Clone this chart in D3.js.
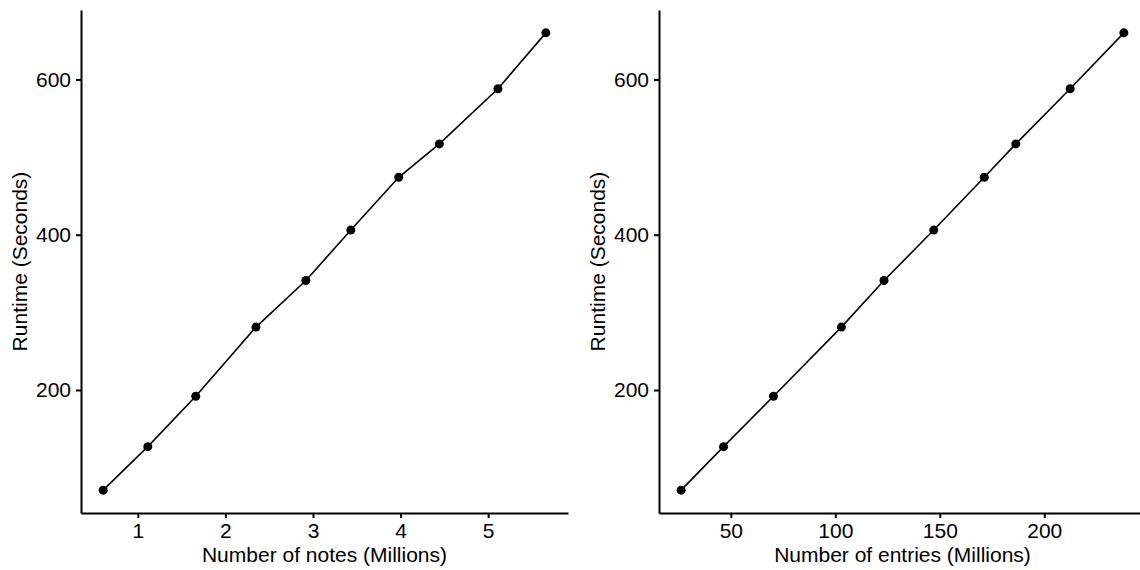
<!DOCTYPE html>
<html>
<head>
<meta charset="utf-8">
<script src="https://cdn.jsdelivr.net/npm/d3@7"></script>
<style>
    body { margin: 0; background: #fff; }
    text { font-family: "Liberation Sans", Arial, Helvetica, sans-serif; fill: #000; }
    .axis path, .axis line { stroke: #000; stroke-width: 2; }
    .axis text { font-size: 21px; }
    .title { font-size: 21px; }
</style>
</head>
<body>
<div id="chart"></div>
<script>
// runtime for each run (same runs on both panels)
let runtime = [71, 127, 192, 281, 341, 406, 474, 517, 588, 660];
let notes = [0.604, 1.114, 1.661, 2.349, 2.919, 3.432, 3.979, 4.443, 5.112, 5.659];
let entries = [26.2, 46.5, 70.4, 102.9, 123.3, 147.1, 171.3, 186.4, 212.4, 238.1];
let runtimeTicks = [200, 400, 600];
let notesTicks = [1, 2, 3, 4, 5];
let entriesTicks = [50, 100, 150, 200];

/** One ggplot-like panel: x/y axes, line and points. */
class LinePanel {

    constructor(svg, left, width, top, bottom) {
        this.g = svg.append("g");
        this.left = left;
        this.width = width;
        this.top = top;
        this.bottom = bottom;
    }

    // ggplot pads the data range by 5% on each side
    padded(values) {
        let ext = d3.extent(values);
        let pad = (ext[1] - ext[0]) * 0.05;
        return [ext[0] - pad, ext[1] + pad];
    }

    update(xs, ys, xTicks, yTicks, xTitle, yTitle) {
        let x = d3.scaleLinear().domain(this.padded(xs)).range([this.left, this.left + this.width]);
        let y = d3.scaleLinear().domain(this.padded(ys)).range([this.bottom, this.top]);
        let data = xs.map((d, i) => ({x: d, y: ys[i]}));

        this.g.append("g")
            .attr("class", "axis")
            .attr("transform", "translate(0," + this.bottom + ")")
            .call(d3.axisBottom(x).tickValues(xTicks).tickFormat(d3.format("d"))
                .tickSize(5).tickSizeOuter(0).tickPadding(5));

        this.g.append("g")
            .attr("class", "axis")
            .attr("transform", "translate(" + this.left + ",0)")
            .call(d3.axisLeft(y).tickValues(yTicks).tickFormat(d3.format("d"))
                .tickSize(5).tickSizeOuter(0).tickPadding(5));

        this.g.selectAll(".axis text").attr("fill", "#000");

        let line = d3.line().x(d => x(d.x)).y(d => y(d.y));
        this.g.append("path")
            .datum(data)
            .attr("d", line)
            .attr("fill", "none")
            .attr("stroke", "#000")
            .attr("stroke-width", 1.6);

        this.g.selectAll("circle")
            .data(data)
            .enter()
            .append("circle")
            .attr("cx", d => x(d.x))
            .attr("cy", d => y(d.y))
            .attr("r", 4.5)
            .attr("fill", "#000");

        this.g.append("text")
            .attr("class", "title")
            .attr("x", this.left + this.width / 2)
            .attr("y", 562)
            .attr("text-anchor", "middle")
            .text(xTitle);

        this.g.append("text")
            .attr("class", "title")
            .attr("transform", "translate(" + (this.left - 54) + "," + ((this.top + this.bottom) / 2) + ") rotate(-90)")
            .attr("text-anchor", "middle")
            .text(yTitle);
    }
}

let svg = d3.select("#chart").append("svg")
    .attr("width", 1140)
    .attr("height", 570);

let leftPanel = new LinePanel(svg, 81, 487, 10, 513);
leftPanel.update(notes, runtime, notesTicks, runtimeTicks, "Number of notes (Millions)", "Runtime (Seconds)");

let rightPanel = new LinePanel(svg, 659, 487, 10, 513);
rightPanel.update(entries, runtime, entriesTicks, runtimeTicks, "Number of entries (Millions)", "Runtime (Seconds)");
</script>
</body>
</html>
